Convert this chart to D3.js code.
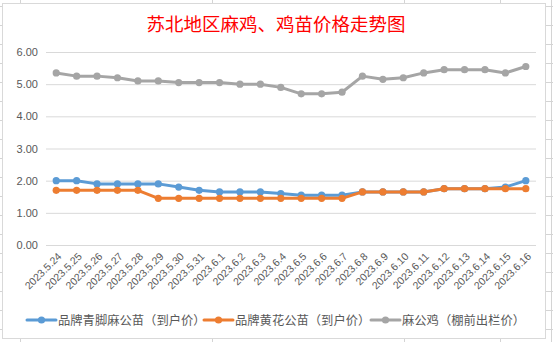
<!DOCTYPE html>
<html><head><meta charset="utf-8">
<script src="https://cdn.jsdelivr.net/npm/d3@7/dist/d3.min.js"></script>
<style>html,body{margin:0;padding:0;background:#fff;}svg{display:block;}</style>
</head><body>
<svg id="c" width="553" height="342"></svg>
<script>
const title = "苏北地区麻鸡、鸡苗价格走势图";
const categories = ["2023.5.24","2023.5.25","2023.5.26","2023.5.27","2023.5.28","2023.5.29","2023.5.30","2023.5.31","2023.6.1","2023.6.2","2023.6.3","2023.6.4","2023.6.5","2023.6.6","2023.6.7","2023.6.8","2023.6.9","2023.6.10","2023.6.11","2023.6.12","2023.6.13","2023.6.14","2023.6.15","2023.6.16"];
const seriesNames = ["品牌青脚麻公苗（到户价）","品牌黄花公苗（到户价）","麻公鸡（棚前出栏价）"];
const blueValues = [2.0,2.0,1.9,1.9,1.9,1.9,1.8,1.7,1.65,1.65,1.65,1.6,1.55,1.55,1.55,1.65,1.65,1.65,1.65,1.75,1.75,1.75,1.8,2.0];
const orangeValues = [1.7,1.7,1.7,1.7,1.7,1.45,1.45,1.45,1.45,1.45,1.45,1.45,1.45,1.45,1.45,1.65,1.65,1.65,1.65,1.75,1.75,1.75,1.75,1.75];
const grayValues = [5.35,5.25,5.25,5.2,5.1,5.1,5.05,5.05,5.05,5.0,5.0,4.9,4.7,4.7,4.75,5.25,5.15,5.2,5.35,5.45,5.45,5.45,5.35,5.55];
const yTicks = [0,1,2,3,4,5,6];
const colors = ["#5B9BD5","#ED7D31","#A5A5A5"];

const svg = d3.select("#c");
// spreadsheet grid fragments outside chart
const gridCol = "#D4D4D4";
const rows = d3.range(0,18).map(i=>6+19*i);
svg.selectAll("line.rl").data(rows).enter().append("line")
  .attr("x1",0).attr("x2",2).attr("y1",d=>d+0.5).attr("y2",d=>d+0.5).attr("stroke",gridCol);
svg.selectAll("line.rr").data(rows).enter().append("line")
  .attr("x1",546).attr("x2",553).attr("y1",d=>d+0.5).attr("y2",d=>d+0.5).attr("stroke",gridCol);
const cols = [20,212,404,500];
cols.forEach(x=>{
  svg.append("line").attr("x1",x+0.5).attr("x2",x+0.5).attr("y1",0).attr("y2",3).attr("stroke",gridCol);
  svg.append("line").attr("x1",x+0.5).attr("x2",x+0.5).attr("y1",339).attr("y2",342).attr("stroke",gridCol);
});
svg.append("line").attr("x1",551.5).attr("x2",551.5).attr("y1",0).attr("y2",342).attr("stroke",gridCol);
// chart area
svg.append("rect").attr("x",2.5).attr("y",3.5).attr("width",543).attr("height",335)
  .attr("fill","#fff").attr("stroke","#D9D9D9");

svg.append("text").attr("x",276).attr("y",31).attr("text-anchor","middle")
  .attr("font-family","'Noto Sans CJK SC'").attr("font-size",18.5).attr("fill","#FF0000").text(title);

const x = d3.scaleBand().domain(categories).range([46,536]);
const y = d3.scaleLinear().domain([0,6]).range([245,52]);
const cx = d => x(d)+x.bandwidth()/2;

const yAxis = svg.append("g").attr("transform","translate(46,0)")
  .call(d3.axisLeft(y).tickValues(yTicks).tickFormat(d3.format(".2f")).tickSize(-490).tickPadding(8));
yAxis.select(".domain").remove();
yAxis.selectAll(".tick line").attr("stroke","#D9D9D9").attr("stroke-width",1);
yAxis.selectAll(".tick text").attr("fill","#595959").attr("font-family","'Liberation Sans',Arial").attr("font-size",11);

const xAxis = svg.append("g").attr("transform","translate(0,245)")
  .call(d3.axisBottom(x).tickSize(0).tickPadding(0));
xAxis.select(".domain").remove();
xAxis.selectAll(".tick text").attr("fill","#595959").attr("font-family","'Liberation Sans',Arial").attr("font-size",10.5)
  .attr("text-anchor","end").attr("dy",0).attr("y",0)
  .attr("transform","translate(6,12) rotate(-45)");

const series = [blueValues, orangeValues, grayValues];
const line = d3.line().x((d,i)=>cx(categories[i])).y(d=>y(d));
[2,0,1].forEach(si=>{
  const g = svg.append("g");
  g.append("path").datum(series[si]).attr("d",line).attr("fill","none")
    .attr("stroke",colors[si]).attr("stroke-width",3).attr("stroke-linejoin","round").attr("stroke-linecap","round");
  g.selectAll("circle").data(series[si]).enter().append("circle")
    .attr("cx",(d,i)=>cx(categories[i])).attr("cy",d=>y(d)).attr("r",3.6).attr("fill",colors[si]);
});

// legend
const legX = [27,204,371];
seriesNames.forEach((n,i)=>{
  const g = svg.append("g").attr("transform",`translate(${legX[i]},320)`);
  g.append("line").attr("x1",0).attr("x2",29).attr("y1",0).attr("y2",0).attr("stroke",colors[i]).attr("stroke-width",3).attr("stroke-linecap","round");
  g.append("circle").attr("cx",14.5).attr("cy",0).attr("r",3.6).attr("fill",colors[i]);
  g.append("text").attr("x",31).attr("y",4.5).attr("fill","#595959")
    .attr("font-family","'Noto Sans CJK SC'").attr("font-size",12.3).text(n);
});
</script>
</body></html>
